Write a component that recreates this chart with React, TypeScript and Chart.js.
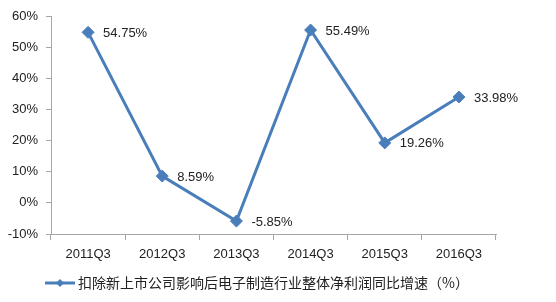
import React, { useEffect, useRef } from "react";
import { Chart, registerables } from "chart.js";

Chart.register(...registerables);

const categories = ["2011Q3", "2012Q3", "2013Q3", "2014Q3", "2015Q3", "2016Q3"];
const growthValues = [54.75, 8.59, -5.85, 55.49, 19.26, 33.98];
const seriesName = "扣除新上市公司影响后电子制造行业整体净利润同比增速（%）";
const yMin = -10;
const yMax = 60;
const yStep = 10;

const LINE_COLOR = "#4A7EBB";
const AXIS_COLOR = "#A6A6A6";
const TEXT_COLOR = "#222222";

const dataLabelPlugin = {
  id: "dataLabels",
  afterDatasetsDraw(chart: any) {
    const ctx = chart.ctx;
    const meta = chart.getDatasetMeta(0);
    const ds = chart.data.datasets[0];
    ctx.save();
    ctx.font = "13px 'Liberation Sans', Arial, sans-serif";
    ctx.fillStyle = TEXT_COLOR;
    ctx.textAlign = "left";
    ctx.textBaseline = "middle";
    meta.data.forEach((pt: any, i: number) => {
      const v = ds.data[i] as number;
      ctx.fillText(v.toFixed(2) + "%", pt.x + 15, pt.y + 1);
    });
    ctx.restore();
  },
};

const legendPlugin = {
  id: "customLegend",
  afterDraw(chart: any) {
    const ctx = chart.ctx;
    const y = 283;
    ctx.save();
    ctx.strokeStyle = LINE_COLOR;
    ctx.lineWidth = 3;
    ctx.beginPath();
    ctx.moveTo(45, y);
    ctx.lineTo(75, y);
    ctx.stroke();
    ctx.fillStyle = LINE_COLOR;
    ctx.beginPath();
    const r = 4;
    ctx.moveTo(60, y - r);
    ctx.lineTo(60 + r, y);
    ctx.lineTo(60, y + r);
    ctx.lineTo(60 - r, y);
    ctx.closePath();
    ctx.fill();
    ctx.font = "14px 'Noto Sans CJK SC', sans-serif";
    ctx.fillStyle = TEXT_COLOR;
    ctx.textAlign = "left";
    ctx.textBaseline = "middle";
    ctx.fillText(seriesName, 78, y);
    ctx.restore();
  },
};

export default function App() {
  const ref = useRef<HTMLCanvasElement | null>(null);

  useEffect(() => {
    if (!ref.current) return;
    const chart = new Chart(ref.current, {
      type: "line",
      data: {
        labels: categories,
        datasets: [
          {
            label: seriesName,
            data: growthValues,
            borderColor: LINE_COLOR,
            backgroundColor: LINE_COLOR,
            borderWidth: 3,
            pointStyle: "rectRot",
            pointRadius: 6,
            pointBackgroundColor: LINE_COLOR,
            pointBorderColor: LINE_COLOR,
            pointBorderWidth: 1,
            tension: 0,
            fill: false,
          },
        ],
      },
      options: {
        responsive: false,
        animation: false,
        layout: { padding: { top: 16, right: 60, bottom: 38, left: 0 } },
        plugins: {
          legend: { display: false },
          tooltip: { enabled: false },
        },
        scales: {
          x: {
            type: "category",
            offset: true,
            grid: {
              offset: true,
              drawOnChartArea: false,
              drawTicks: true,
              tickLength: 6,
              color: AXIS_COLOR,
            },
            border: { color: AXIS_COLOR, width: 1 },
            ticks: {
              color: TEXT_COLOR,
              padding: 7,
              maxRotation: 0,
              font: { family: "'Liberation Sans', Arial, sans-serif", size: 13 },
            },
            afterFit(scale: any) {
              scale.height = 30;
            },
          },
          y: {
            min: yMin,
            max: yMax,
            grid: {
              drawOnChartArea: false,
              drawTicks: true,
              tickLength: 5,
              color: AXIS_COLOR,
            },
            border: { color: AXIS_COLOR, width: 1 },
            ticks: {
              stepSize: yStep,
              color: TEXT_COLOR,
              padding: 8,
              font: { family: "'Liberation Sans', Arial, sans-serif", size: 13 },
              callback: (v: any) => v + "%",
            },
            afterFit(scale: any) {
              scale.width = 51;
            },
          },
        },
      },
      plugins: [dataLabelPlugin, legendPlugin],
    });
    return () => chart.destroy();
  }, []);

  return (
    <div style={{ position: "fixed", left: 0, top: 0, width: 556, height: 302, background: "#fff" }}>
      <canvas ref={ref} width={556} height={302} style={{ display: "block" }} />
    </div>
  );
}
